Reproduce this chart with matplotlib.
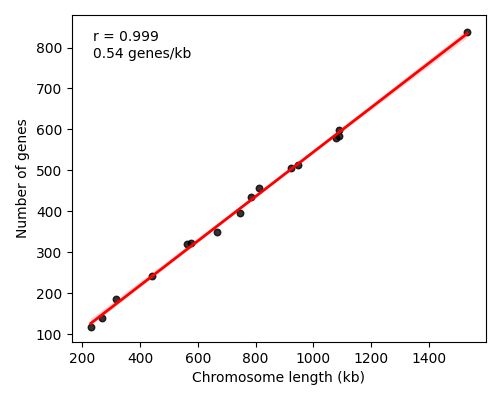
import matplotlib
matplotlib.use("Agg")
import matplotlib.pyplot as plt
import seaborn as sns
import numpy as np

# chromosome length (kb) vs number of genes
chrom_len = [230, 270, 316, 440, 563, 578, 667, 745, 785, 813, 923, 947, 1078, 1087, 1090, 1532]
n_genes = [117, 139, 185, 241, 321, 323, 349, 397, 436, 456, 505, 512, 578, 598, 584, 837]

fig, ax = plt.subplots(figsize=(5, 4), dpi=100)
fig.subplots_adjust(left=0.144, right=0.972, top=0.962, bottom=0.145)

sns.regplot(x=chrom_len, y=n_genes, ax=ax,
            scatter_kws={'color': 'black', 's': 22, 'alpha': 0.8},
            line_kws={'color': 'red', 'lw': 2})

r = np.corrcoef(chrom_len, n_genes)[0, 1]
slope = np.polyfit(chrom_len, n_genes, 1)[0]
ax.text(0.05, 0.87, f"r = {r:.3f}\n{slope:.2f} genes/kb", transform=ax.transAxes, fontsize=10)

ax.set_xlabel('Chromosome length (kb)')
ax.set_ylabel('Number of genes')

fig.savefig('out.png')
